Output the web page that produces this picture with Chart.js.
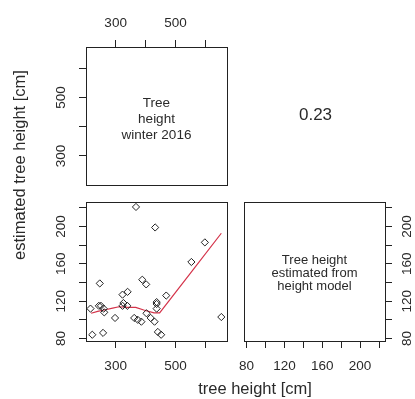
<!DOCTYPE html>
<html>
<head>
<meta charset="utf-8">
<script src="https://cdn.jsdelivr.net/npm/chart.js@4"></script>
<style>
  body { margin: 0; background: #fff; }
  #wrap { position: relative; width: 415px; height: 399px; overflow: hidden; }
  #wrap canvas { position: absolute; left: 0; top: 0; }
</style>
</head>
<body>
<div id="wrap">
  <canvas id="c-top" width="415" height="399"></canvas>
  <canvas id="c-scatter" width="415" height="399"></canvas>
  <canvas id="c-est" width="415" height="399"></canvas>
</div>
<script>
// ---- data ----
const treeHeight = [368, 432, 598, 553, 247, 389, 402, 323, 340, 469, 437, 437, 437, 216, 244, 251, 260, 262,
                    323, 326, 339, 298, 362, 374, 386, 403, 417, 430, 441, 452, 222, 258, 653];
const estHeight  = [221, 199, 183, 162, 139, 143, 138, 127, 130, 126, 119, 117, 112, 112, 115, 115, 112, 108,
                    115, 118, 115, 102, 102, 100, 98, 107, 102, 98, 87, 84, 84, 86, 103];

// lowess smoother (red line)
const smoothX = [218, 240, 262, 290, 311, 340, 367, 394, 428, 447, 550, 653];
const smoothY = [107, 109, 110.5, 112.5, 114, 113.4, 113.4, 110.5, 107.5, 107.5, 150, 192.8];

const heightTicks = [300, 500];
const estTicks = [80, 120, 160, 200];
const heightRange = [201, 672];
const estRange = [77.3, 226.3];

const FONT = '"Liberation Sans", Arial, sans-serif';
const TICK_FONT = '13.5px ' + FONT;
const INK = '#222';

// box, tick labels and free text for one panel
const panelDecor = {
  id: 'panelDecor',
  afterDraw(chart, args, o) {
    const ctx = chart.ctx, a = chart.chartArea;
    ctx.save();
    ctx.strokeStyle = INK;
    ctx.lineWidth = 1;
    if (o.box) {
      ctx.strokeRect(Math.round(a.left) + 0.5, Math.round(a.top) + 0.5,
                     Math.round(a.right - a.left), Math.round(a.bottom - a.top));
    }
    ctx.fillStyle = '#2a2a2a';
    ctx.font = TICK_FONT;
    ctx.textAlign = 'center';
    ctx.textBaseline = 'middle';
    (o.tickLabels || []).forEach(t => {
      const s = chart.scales[t.scale];
      t.values.forEach(v => {
        const p = s.getPixelForValue(v);
        if (t.side === 'top') ctx.fillText(String(v), p, a.top - 24);
        else if (t.side === 'bottom') ctx.fillText(String(v), p, a.bottom + 25.5);
        else {
          const x = t.side === 'left' ? a.left - 24.5 : a.right + 22;
          ctx.save();
          ctx.translate(x, p);
          ctx.rotate(-Math.PI / 2);
          ctx.fillText(String(v), 0, 0);
          ctx.restore();
        }
      });
    });
    (o.texts || []).forEach(t => {
      ctx.font = t.font;
      ctx.textBaseline = t.baseline || 'alphabetic';
      ctx.save();
      ctx.translate(t.x, t.y);
      if (t.rotate) ctx.rotate(t.rotate);
      ctx.fillText(t.text, 0, 0);
      ctx.restore();
    });
    ctx.restore();
  }
};

function axis(pos, range, step) {
  return {
    type: 'linear',
    position: pos,
    min: range[0],
    max: range[1],
    ticks: { display: false, stepSize: step, includeBounds: false },
    grid: { display: true, drawOnChartArea: false, drawTicks: true, tickLength: 7, color: INK, tickColor: INK },
    border: { display: false },
    afterFit(s) { if (s.isHorizontal()) s.height = 10; else s.width = 10; }
  };
}

function baseOptions(padding, scales, decor) {
  return {
    responsive: false,
    animation: false,
    devicePixelRatio: 1,
    layout: { padding: padding },
    scales: scales,
    plugins: { legend: { display: false }, tooltip: { enabled: false }, panelDecor: decor }
  };
}

// top-left: label panel for tree height
new Chart(document.getElementById('c-top'), {
  type: 'scatter',
  data: { datasets: [] },
  options: baseOptions(
    { left: 76, right: 188, top: 37, bottom: 214 },
    { x: axis('top', heightRange, 100), y: axis('left', heightRange, 100) },
    {
      box: true,
      tickLabels: [
        { scale: 'x', side: 'top', values: heightTicks },
        { scale: 'y', side: 'left', values: heightTicks }
      ],
      texts: [
        { text: 'Tree', x: 156.5, y: 106.5, font: '13.5px ' + FONT },
        { text: 'height', x: 156.5, y: 122.5, font: '13.5px ' + FONT },
        { text: 'winter 2016', x: 156.5, y: 138.5, font: '13.5px ' + FONT },
        { text: '0.23', x: 315.5, y: 115, font: '17px ' + FONT, baseline: 'middle' },
        { text: 'estimated tree height [cm]', x: 20, y: 165, font: '16.5px ' + FONT, baseline: 'middle', rotate: -Math.PI / 2 },
        { text: 'tree height [cm]', x: 255, y: 389, font: '16.5px ' + FONT, baseline: 'middle' }
      ]
    }
  ),
  plugins: [panelDecor]
});

// bottom-left: scatter with smoother
new Chart(document.getElementById('c-scatter'), {
  type: 'scatter',
  data: {
    datasets: [
      {
        data: treeHeight.map((h, i) => ({ x: h, y: estHeight[i] })),
        pointStyle: 'rectRot',
        pointRadius: 3.6,
        borderColor: INK,
        borderWidth: 1,
        backgroundColor: 'rgba(0,0,0,0)'
      },
      {
        type: 'line',
        data: smoothX.map((x, i) => ({ x: x, y: smoothY[i] })),
        borderColor: '#d4334a',
        borderWidth: 1.2,
        pointRadius: 0,
        fill: false,
        tension: 0
      }
    ]
  },
  options: baseOptions(
    { left: 76, right: 188, top: 202, bottom: 48 },
    { x: axis('bottom', heightRange, 100), y: axis('left', estRange, 20) },
    {
      box: true,
      tickLabels: [
        { scale: 'x', side: 'bottom', values: heightTicks },
        { scale: 'y', side: 'left', values: estTicks }
      ]
    }
  ),
  plugins: [panelDecor]
});

// bottom-right: label panel for estimated height
new Chart(document.getElementById('c-est'), {
  type: 'scatter',
  data: { datasets: [] },
  options: baseOptions(
    { left: 244, right: 20, top: 202, bottom: 48 },
    { x: axis('bottom', estRange, 20), y: axis('right', estRange, 20) },
    {
      box: true,
      tickLabels: [
        { scale: 'x', side: 'bottom', values: estTicks },
        { scale: 'y', side: 'right', values: estTicks }
      ],
      texts: [
        { text: 'Tree height', x: 314.5, y: 263.5, font: '13px ' + FONT },
        { text: 'estimated from', x: 314.5, y: 276.5, font: '13px ' + FONT },
        { text: 'height model', x: 314.5, y: 289.5, font: '13px ' + FONT }
      ]
    }
  ),
  plugins: [panelDecor]
});
</script>
</body>
</html>
